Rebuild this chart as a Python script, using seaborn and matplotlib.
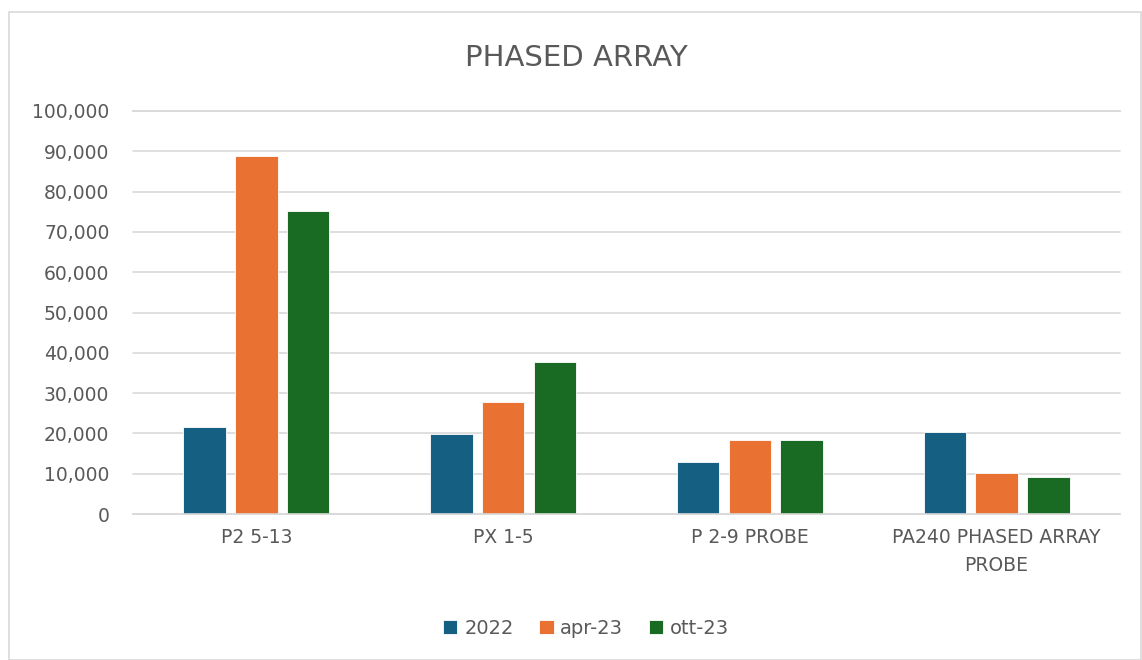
import pandas as pd
import matplotlib.pyplot as plt
import matplotlib.ticker as mticker
import seaborn as sns

categories = ['P2 5-13', 'PX 1-5', 'P 2-9 PROBE', 'PA240 PHASED ARRAY\nPROBE']
series = ['2022', 'apr-23', 'ott-23']
v_2022 = [21700, 19850, 12900, 20450]
v_apr23 = [88750, 27700, 18250, 10200]
v_ott23 = [75200, 37600, 18250, 9250]
colors = ['#156082', '#E97132', '#196B24']

rows = []
for s, vals in zip(series, [v_2022, v_apr23, v_ott23]):
    for c, v in zip(categories, vals):
        rows.append({'category': c, 'series': s, 'value': v})
df = pd.DataFrame(rows)

sns.set_style('white')
plt.rcParams['font.family'] = ['DejaVu Sans']

fig = plt.figure(figsize=(11.42, 6.6), dpi=100)
ax = fig.add_axes([133 / 1142, 1 - 514 / 660, (1120 - 133) / 1142, (514 - 111) / 660])

sns.barplot(data=df, x='category', y='value', hue='series', palette=colors,
            saturation=1, width=0.63, gap=0.18, ax=ax, edgecolor='white', linewidth=0.6)

ax.set_ylim(0, 100000)
ax.set_yticks(range(0, 100001, 10000))
ax.yaxis.set_major_formatter(mticker.FuncFormatter(lambda v, p: f'{int(v):,}'))
ax.grid(axis='y', color='#d9d9d9', linewidth=1.2, clip_on=False)
ax.set_axisbelow(True)
for side in ['right', 'left']:
    ax.spines[side].set_visible(False)
ax.spines['top'].set_color('#d9d9d9')
ax.spines['top'].set_linewidth(1.2)
ax.spines['bottom'].set_color('#d9d9d9')
ax.spines['bottom'].set_linewidth(1.2)
ax.tick_params(axis='both', length=0, labelsize=13.5, colors='#595959', pad=10)
ax.tick_params(axis='y', pad=17)
for t in ax.get_xticklabels():
    t.set_linespacing(1.6)
ax.set_xlabel('')
ax.set_ylabel('')

fig.text(576 / 1142, 1 - 58 / 660, 'PHASED ARRAY', ha='center', va='center',
         fontsize=21, color='#595959')

handles, labels = ax.get_legend_handles_labels()
ax.get_legend().remove()
fig.legend(handles, labels, loc='center', bbox_to_anchor=(586 / 1142, 1 - 628 / 660),
           ncol=3, frameon=False, fontsize=14, labelcolor='#595959',
           handlelength=0.75, handleheight=0.75, handletextpad=0.35, columnspacing=1.3)

border = plt.Rectangle((9 / 1142, 0), 1132 / 1142, 1 - 12 / 660, transform=fig.transFigure,
                       fill=False, edgecolor='#d9d9d9', linewidth=1.2)
fig.patches.append(border)

fig.savefig('out.png', dpi=100)
